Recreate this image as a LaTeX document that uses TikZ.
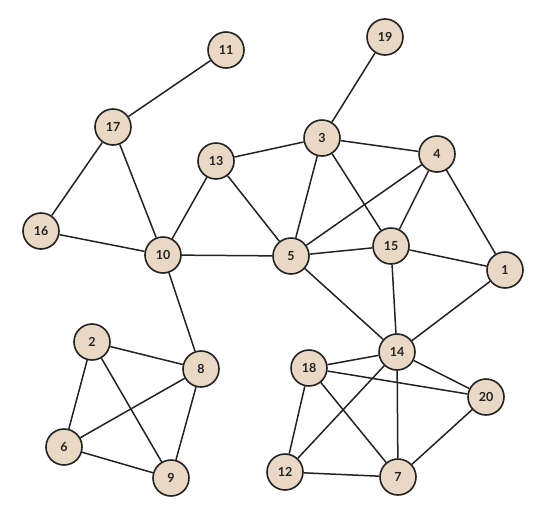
\documentclass[tikz,border=0pt]{standalone}
\usepackage{fontspec}
\setmainfont{Lato}
\definecolor{nodefill}{HTML}{E8D8C4}
\definecolor{inkc}{HTML}{222222}
\begin{document}
\begin{tikzpicture}[x=1pt,y=-1pt,
  vert/.style={circle,draw=inkc,line width=1.6pt,fill=nodefill,minimum size=36pt,inner sep=0pt,font=\fontsize{12.5}{12.5}\selectfont\bfseries,text=inkc},
  edge/.style={draw=inkc,line width=1.5pt}]
\useasboundingbox (0,0) rectangle (545,517);
\node[vert] (n11) at (226,50) {11};
\node[vert] (n19) at (385,37) {19};
\node[vert] (n17) at (113,127) {17};
\node[vert] (n3) at (322,138) {3};
\node[vert] (n4) at (437,154) {4};
\node[vert] (n13) at (216,161) {13};
\node[vert] (n16) at (41,231) {16};
\node[vert] (n10) at (163,255) {10};
\node[vert] (n5) at (291,256) {5};
\node[vert] (n15) at (391,246) {15};
\node[vert] (n1) at (505,270) {1};
\node[vert] (n2) at (92,342) {2};
\node[vert] (n8) at (201,369) {8};
\node[vert] (n14) at (397,352) {14};
\node[vert] (n18) at (309,368) {18};
\node[vert] (n20) at (486,397) {20};
\node[vert] (n6) at (64,447) {6};
\node[vert] (n9) at (171,478) {9};
\node[vert] (n12) at (285,472) {12};
\node[vert] (n7) at (398,477) {7};
\foreach \a/\b in {n11/n17,n17/n16,n17/n10,n16/n10,n10/n13,n13/n3,n13/n5,n10/n5,n10/n8,n3/n19,n3/n4,n3/n5,n3/n15,n4/n5,n4/n15,n4/n1,n5/n15,n5/n14,n15/n1,n15/n14,n1/n14,n14/n18,n14/n20,n14/n7,n14/n12,n18/n20,n18/n12,n18/n7,n12/n7,n7/n20,n2/n8,n2/n6,n2/n9,n8/n6,n8/n9,n6/n9}
  \draw[edge] (\a) -- (\b);
\end{tikzpicture}
\end{document}
